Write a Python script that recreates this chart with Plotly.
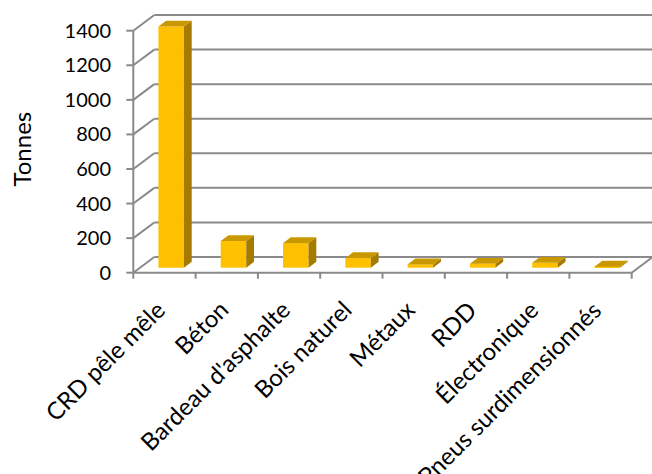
import plotly.graph_objects as go

# ---------------- data ----------------
CATEGORIES = ["CRD pêle mêle", "Béton", "Bardeau d'asphalte", "Bois naturel",
              "Métaux", "RDD", "Électronique", "Pneus surdimensionnés"]
TONNES = [1395, 154, 142, 55, 19, 23, 28, 6]
Y_TICKS = [0, 200, 400, 600, 800, 1000, 1200, 1400]
Y_TITLE = "Tonnes"

# ---------------- geometry / style ----------------
W, H = 652, 474
ML, MR, MT, MB = 124, 0, 12, 192
PX_CAT = 62.3            # pixels per category
PX_T = 0.17285           # pixels per tonne
FRONT_X_PX = 133.3       # pixel of front-left axis
FRONT_Y_PX = 272.7       # pixel of front baseline
DX = 21 / PX_CAT         # depth offset (category units)
DY = 15.7 / PX_T         # depth offset (tonnes)
BAR_Z0, BAR_DEPTH, BAR_W = 0.32, 0.37, 0.41
GRID = "#8a8a8a"
FRONT, TOP, SIDE = "#FFC000", "#C99800", "#A47B00"
FONT = "Lato"

pw, ph = W - ML - MR, H - MT - MB
xmin = -0.5 - (FRONT_X_PX - ML) / PX_CAT
xmax = xmin + pw / PX_CAT
ymin = -((H - MB) - FRONT_Y_PX) / PX_T
ymax = ymin + ph / PX_T

n = len(CATEGORIES)
xl, xr = -0.5, n - 0.5
shapes = []

def line(x0, y0, x1, y1):
    shapes.append(dict(type="line", xref="x", yref="y", x0=x0, y0=y0, x1=x1, y1=y1,
                       line=dict(color=GRID, width=2), layer="below"))

# back wall grid lines + left wall diagonals + front-axis ticks
for v in Y_TICKS:
    line(xl + DX, v + DY, xr + DX, v + DY)
    line(xl, v, xl + DX, v + DY)
    line(xl - 7 / PX_CAT, v, xl, v)
# front vertical axis
line(xl, 0, xl, Y_TICKS[-1])
# floor front edge, right edge
line(xl, 0, xr, 0)
line(xr, 0, xr + DX, DY)
# category tick marks
for i in range(n + 1):
    line(xl + i, 0, xl + i, -6 / PX_T)

fig = go.Figure()

# front faces of the bars
fig.add_trace(go.Bar(
    x=[i + BAR_Z0 * DX for i in range(n)], y=TONNES, base=BAR_Z0 * DY,
    width=BAR_W, marker=dict(color=FRONT, line=dict(width=0)), hoverinfo="skip"))

# side and top faces
for i, v in enumerate(TONNES):
    x0 = i + BAR_Z0 * DX - BAR_W / 2
    x1 = x0 + BAR_W
    b = BAR_Z0 * DY
    ddx, ddy = BAR_DEPTH * DX, BAR_DEPTH * DY
    fig.add_trace(go.Scatter(
        x=[x1, x1, x1 + ddx, x1 + ddx, x1], y=[b, b + v, b + v + ddy, b + ddy, b],
        fill="toself", fillcolor=SIDE, mode="lines", line=dict(width=0),
        hoverinfo="skip", showlegend=False))
    fig.add_trace(go.Scatter(
        x=[x0, x1, x1 + ddx, x0 + ddx, x0], y=[b + v, b + v, b + v + ddy, b + v + ddy, b + v],
        fill="toself", fillcolor=TOP, mode="lines", line=dict(width=0),
        hoverinfo="skip", showlegend=False))

annotations = []
for i, name in enumerate(CATEGORIES):
    annotations.append(dict(
        x=i + 0.14, y=0, xref="x", yref="y", text=name, showarrow=False,
        textangle=-45, xanchor="right", yanchor="top", yshift=-19,
        font=dict(family=FONT, size=24, color="#000")))
annotations.append(dict(
    x=(20.5 - ML) / pw, y=((H - MB) - 149) / ph, xref="paper", yref="paper",
    text=Y_TITLE, showarrow=False, textangle=-90, xanchor="center", yanchor="middle",
    font=dict(family=FONT, size=24, color="#000")))

fig.update_layout(
    width=W, height=H, margin=dict(l=ML, r=MR, t=MT, b=MB, autoexpand=False),
    paper_bgcolor="white", plot_bgcolor="white", showlegend=False,
    shapes=shapes, annotations=annotations,
    xaxis=dict(range=[xmin, xmax], visible=False, fixedrange=True),
    yaxis=dict(range=[ymin, ymax], tickvals=Y_TICKS, ticktext=[str(t) for t in Y_TICKS],
               showgrid=False, zeroline=False, showline=False, ticks="",
               ticklabelstandoff=12, tickfont=dict(family=FONT, size=20, color="#000"),
               fixedrange=True),
)

fig.write_html("out.html", config={"displayModeBar": False},
               post_script="document.body.style.margin='0px';"
                           "document.body.style.overflow='hidden';")
